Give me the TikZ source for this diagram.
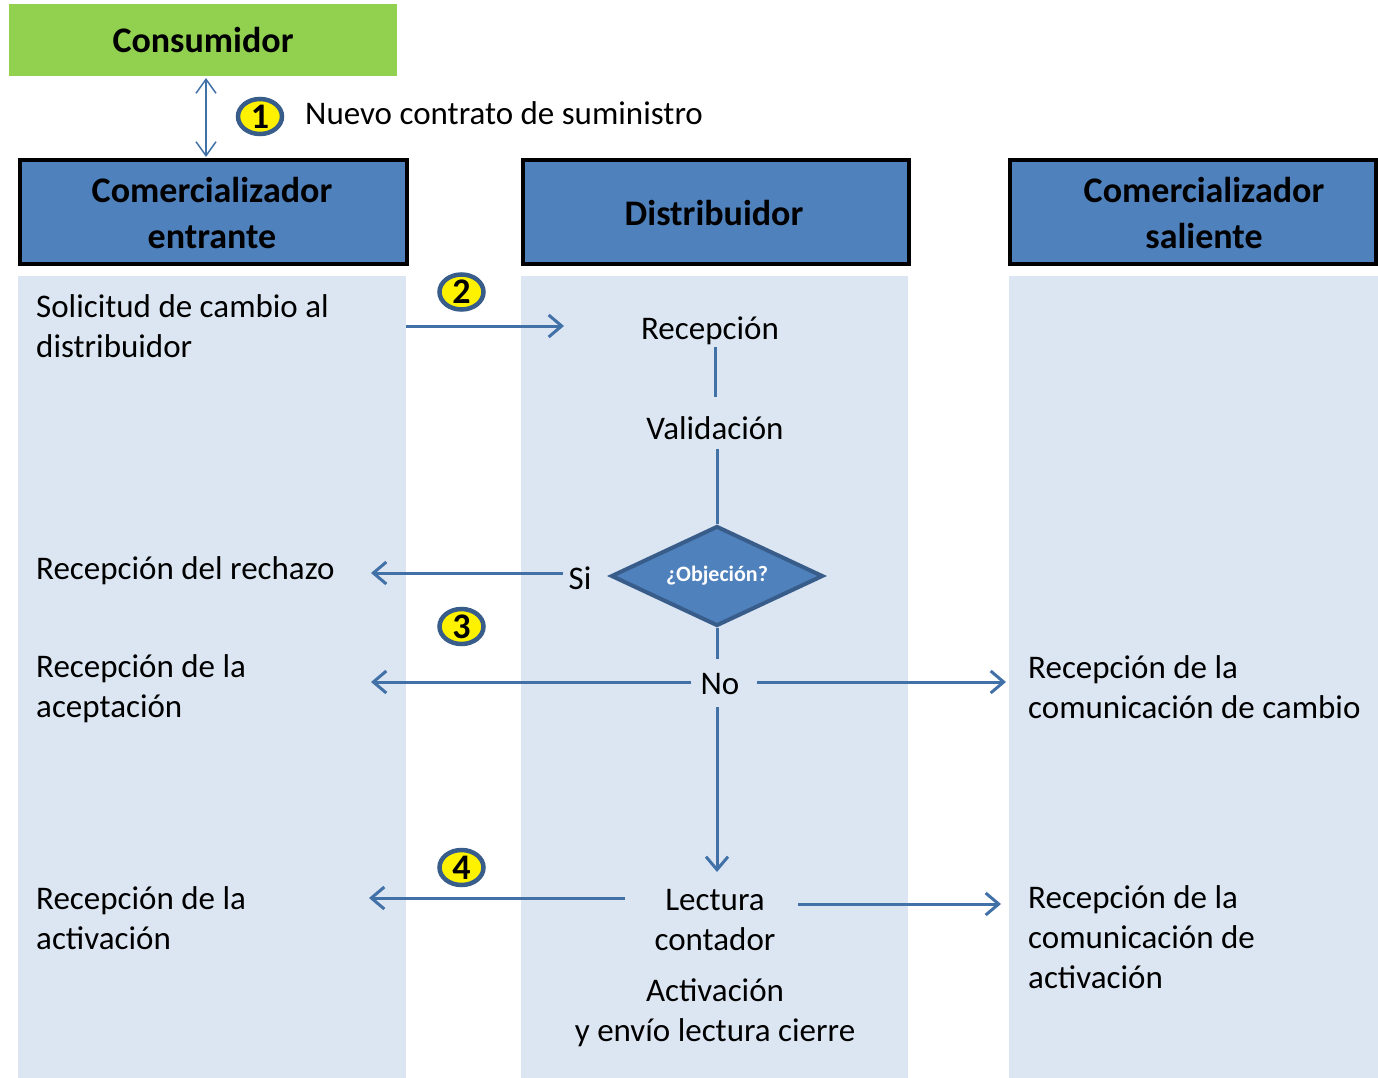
\documentclass[tikz,border=0pt]{standalone}
\usepackage{fontspec}
\setmainfont{Carlito}
\usetikzlibrary{arrows.meta,shapes.geometric}
\definecolor{lanefill}{HTML}{DCE6F2}
\definecolor{hdrfill}{HTML}{4F81BD}
\definecolor{consfill}{HTML}{92D050}
\definecolor{arrcol}{HTML}{4271A8}
\definecolor{rimcol}{HTML}{385D8A}
\begin{document}
\begin{tikzpicture}[x=1pt,y=-1pt,
  lanebox/.style={fill=lanefill, draw=none, inner sep=0pt, anchor=north west},
  hdrbox/.style={draw=black, line width=4pt, fill=hdrfill, inner sep=0pt},
  hdrtxt/.style={align=center, font=\bfseries\fontsize{36}{46}\selectfont, inner sep=0pt},
  txt/.style={font=\fontsize{33}{40}\selectfont, inner sep=0pt, align=left},
  ctxt/.style={txt, align=center},
  numc/.style={ellipse, draw=rimcol, line width=4.5pt, fill=yellow, minimum width=44pt, minimum height=35pt, inner sep=0pt, font=\bfseries\fontsize{36}{36}\selectfont},
  flow/.style={draw=arrcol, line width=3pt, -{Straight Barb[length=13pt,width=22pt]}},
  link/.style={draw=arrcol, line width=3pt},
  dbl/.style={draw=arrcol, line width=1.5pt, {Straight Barb[length=14pt,width=20pt]}-{Straight Barb[length=14pt,width=20pt]}},
]
\useasboundingbox (0,0) rectangle (1378,1078);

% lanes
\node[lanebox, minimum width=388, minimum height=802] (lane1) at (18,276) {};
\node[lanebox, minimum width=387, minimum height=802] (lane2) at (521,276) {};
\node[lanebox, minimum width=369, minimum height=802] (lane3) at (1009,276) {};

% consumer
\node[fill=consfill, minimum width=388, minimum height=72, inner sep=0pt, font=\bfseries\fontsize{36}{46}\selectfont] (cons) at (203,40) {Consumidor};

% headers
\node[hdrbox, minimum width=387, minimum height=104] (hdr1) at (213.5,212) {};
\node[hdrbox, minimum width=386, minimum height=104] (hdr2) at (716,212) {};
\node[hdrbox, minimum width=366, minimum height=104] (hdr3) at (1193,212) {};
\node[hdrtxt] (hdr1t) at (212,213) {Comercializador\\entrante};
\node[hdrtxt] (hdr2t) at (714,213) {Distribuidor};
\node[hdrtxt] (hdr3t) at (1204,213) {Comercializador\\saliente};

% step numbers
\node[numc] (n1) at (260,116.5) {1};
\node[numc] (n2) at (461.5,292) {2};
\node[numc] (n3) at (461.5,626.5) {3};
\node[numc] (n4) at (461.5,867.5) {4};
\node[txt, anchor=west] (contrato) at (305,113) {Nuevo contrato de suministro};

% lane 1 texts
\node[txt, anchor=west] (sol) at (36,326) {Solicitud de cambio al\\distribuidor};
\node[txt, anchor=west] (rech) at (36,571) {Recepción del rechazo};
\node[txt, anchor=west] (acep) at (36,689) {Recepción de la\\aceptación};
\node[txt, anchor=west] (actv) at (36,918) {Recepción de la\\activación};

% lane 3 texts
\node[txt, anchor=west] (comcam) at (1028,687) {Recepción de la\\comunicación de cambio};
\node[txt, anchor=west] (comact) at (1028,937) {Recepción de la\\comunicación de\\activación};

% lane 2
\node[ctxt] (recep) at (710,331) {Recepción};
\node[ctxt] (valid) at (715,428) {Validación};
\node[diamond, shape aspect=2.1, draw=rimcol, line width=4pt, fill=hdrfill, minimum width=212, minimum height=100, inner sep=0pt, text=white, font=\bfseries\fontsize{22}{24}\selectfont] (obj) at (717,576) {¿Objeción?};
\node[ctxt] (si) at (580,578) {Si};
\node[ctxt] (no) at (720,684) {No};
\node[ctxt] (lect) at (715,920) {Lectura\\contador};
\node[ctxt] (activa) at (715,1013) {Activación\\y envío lectura cierre};

% coordinates for connector ends
\coordinate (solR) at (406,326);
\coordinate (recL) at (564,326);
\coordinate (siL) at (563,573);
\coordinate (rechR) at (371,573);
\coordinate (noL) at (691,682);
\coordinate (acepR) at (371,682);
\coordinate (noR) at (757,682);
\coordinate (camL) at (1006,682);
\coordinate (noS) at (717,707);
\coordinate (lectN) at (717,872);
\coordinate (lectL) at (625,898);
\coordinate (actvR) at (369,898);
\coordinate (lectR) at (798,904);
\coordinate (comactL) at (1001,904);
\coordinate (consB) at (206,78);
\coordinate (hdrT) at (206,157);

% connectors
\draw[dbl] (consB) -- (hdrT);
\draw[flow] (solR) -- (recL);
\draw[link, shorten <=2pt, shorten >=19pt] (valid.north |- recep.south) -- (valid.north);
\draw[link, shorten <=9pt] (obj.north |- valid.south) -- (obj.north);
\draw[link, shorten >=14pt] (obj.south) -- (obj.south |- no.north);
\draw[flow] (siL) -- (rechR);
\draw[flow] (noL) -- (acepR);
\draw[flow] (noR) -- (camL);
\draw[flow] (noS) -- (lectN);
\draw[flow] (lectL) -- (actvR);
\draw[flow] (lectR) -- (comactL);
\end{tikzpicture}
\end{document}
